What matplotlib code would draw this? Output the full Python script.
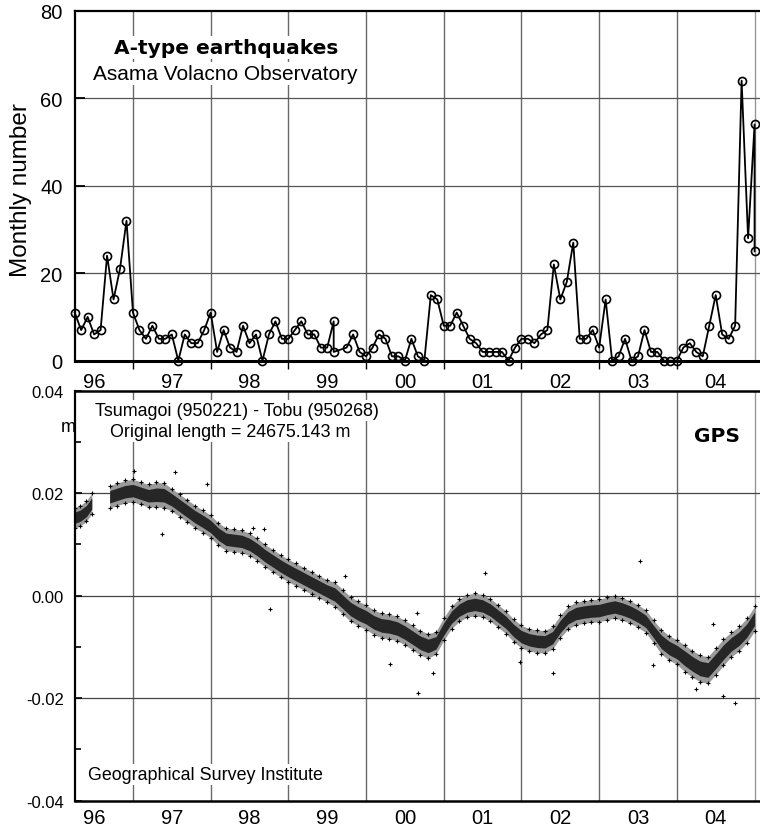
import numpy as np
import pandas as pd
import matplotlib
matplotlib.use("Agg")
import matplotlib.pyplot as plt

plt.rcParams['font.family'] = ['Liberation Sans', 'DejaVu Sans']

# === Data: A-type earthquakes, monthly number (from Apr 1996) ===
eq_month = list(range(0, 41)) + [40] + list(range(42, 106)) + [105]
eq_count = [11, 7, 10, 6, 7, 24, 14, 21, 32, 11,
            7, 5, 8, 5, 5, 6, 0, 6, 4, 4,
            7, 11, 2, 7, 3, 2, 8, 4, 6, 0,
            6, 9, 5, 5, 7, 9, 6, 6, 3, 3,
            9, 2,
            3, 6, 2, 1, 3, 6, 5, 1, 1, 0,
            5, 1, 0, 15, 14, 8, 8, 11, 8, 5,
            4, 2, 2, 2, 2, 0, 3, 5, 5, 4,
            6, 7, 22, 14, 18, 27, 5, 5, 7, 3,
            14, 0, 1, 5, 0, 1, 7, 2, 2, 0,
            0, 0, 3, 4, 2, 1, 8, 15, 6, 5,
            8, 64, 28, 54, 25]
eq_year = 1996.25 + np.array(eq_month) / 12.0

# === Data: GPS baseline change (m), band centre and half width ===
gps_year = [1996.25, 1996.32, 1996.40, 1996.47,
            1996.70, 1996.80, 1996.90, 1997.00, 1997.10, 1997.20, 1997.30,
            1997.40, 1997.50, 1997.60, 1997.70, 1997.80, 1997.90, 1998.00,
            1998.10, 1998.20, 1998.30, 1998.40, 1998.50, 1998.60, 1998.70,
            1998.80, 1998.90, 1999.00, 1999.10, 1999.20, 1999.30, 1999.40,
            1999.50, 1999.60, 1999.70, 1999.80, 1999.90, 2000.00, 2000.10,
            2000.20, 2000.30, 2000.40, 2000.50, 2000.60, 2000.70, 2000.80,
            2000.90, 2001.00, 2001.10, 2001.20, 2001.30, 2001.40, 2001.50,
            2001.60, 2001.70, 2001.80, 2001.90, 2002.00, 2002.10, 2002.20,
            2002.30, 2002.40, 2002.50, 2002.60, 2002.70, 2002.80, 2002.90,
            2003.00, 2003.10, 2003.20, 2003.30, 2003.40, 2003.50, 2003.60,
            2003.70, 2003.80, 2003.90, 2004.00, 2004.10, 2004.20, 2004.30,
            2004.40, 2004.50, 2004.60, 2004.70, 2004.80, 2004.90, 2005.00]
gps_mid = [0.0152, 0.0156, 0.0165, 0.0180,
           0.0193, 0.0198, 0.0203, 0.0205, 0.0200, 0.0195, 0.0197,
           0.0196, 0.0187, 0.0176, 0.0165, 0.0154, 0.0145, 0.0135,
           0.0120, 0.0110, 0.0108, 0.0106, 0.0100, 0.0090, 0.0078,
           0.0068, 0.0058, 0.0049, 0.0041, 0.0033, 0.0025, 0.0017,
           0.0009, 0.0002, -0.0012, -0.0026, -0.0035, -0.0042, -0.0052,
           -0.0058, -0.0060, -0.0064, -0.0072, -0.0082, -0.0092, -0.0098,
           -0.0092, -0.0065, -0.0042, -0.0028, -0.0020, -0.0017, -0.0020,
           -0.0028, -0.0040, -0.0052, -0.0068, -0.0080, -0.0086, -0.0089,
           -0.0090, -0.0082, -0.0060, -0.0043, -0.0035, -0.0032, -0.0030,
           -0.0029, -0.0025, -0.0022, -0.0026, -0.0032, -0.0040, -0.0050,
           -0.0070, -0.0090, -0.0102, -0.0110, -0.0122, -0.0133, -0.0142,
           -0.0145, -0.0128, -0.0110, -0.0095, -0.0084, -0.0068, -0.0045]
gps_half = [0.0020, 0.0020, 0.0020, 0.0020,
            0.0022, 0.0022, 0.0022, 0.0022, 0.0022, 0.0022, 0.0024,
            0.0024, 0.0022, 0.0022, 0.0022, 0.0022, 0.0022, 0.0022,
            0.0022, 0.0022, 0.0022, 0.0022, 0.0022, 0.0022, 0.0022,
            0.0022, 0.0022, 0.0022, 0.0022, 0.0022, 0.0022, 0.0022,
            0.0022, 0.0024, 0.0024, 0.0024, 0.0024, 0.0024, 0.0024,
            0.0024, 0.0024, 0.0024, 0.0024, 0.0024, 0.0024, 0.0024,
            0.0022, 0.0022, 0.0022, 0.0022, 0.0022, 0.0022, 0.0022,
            0.0022, 0.0022, 0.0022, 0.0022, 0.0022, 0.0022, 0.0022,
            0.0022, 0.0022, 0.0022, 0.0022, 0.0022, 0.0022, 0.0022,
            0.0022, 0.0022, 0.0022, 0.0022, 0.0022, 0.0022, 0.0022,
            0.0022, 0.0024, 0.0024, 0.0024, 0.0026, 0.0026, 0.0026,
            0.0026, 0.0026, 0.0026, 0.0024, 0.0024, 0.0024, 0.0024]

# isolated points off the main band
out_year = [1997.01, 1997.37, 1997.54, 1997.95, 1998.54, 1998.69, 1998.76,
            1999.73, 2000.31, 2000.66, 2000.67, 2000.86, 2001.53, 2001.98,
            2002.41, 2003.52, 2003.69, 2004.25, 2004.47, 2004.60, 2004.75]
out_val = [0.0244, 0.0120, 0.0241, 0.0218, 0.0133, 0.0130, -0.0026,
           0.0039, -0.0133, -0.0034, -0.0189, -0.0150, 0.0044, -0.0130,
           -0.0150, 0.0067, -0.0135, -0.0182, -0.0055, -0.0195, -0.0210]

year_labels = ['96', '97', '98', '99', '00', '01', '02', '03', '04']
year_start = np.arange(1996, 2005)

W, H = 760, 829
fig = plt.figure(figsize=(W / 100, H / 100), dpi=100)
ax1 = fig.add_axes([75 / W, 1 - 361.7 / H, 685 / W, 350 / H])
ax2 = fig.add_axes([75 / W, 1 - 801.7 / H, 685 / W, 410 / H])

xmin, xmax = 1996.254, 2005.07
grid_col = '#6a6a6a'

# === Top panel ===
for yr in year_start[1:]:
    ax1.axvline(yr, color=grid_col, lw=1.0, zorder=1)
ax1.axvline(2005, color='#999999', lw=1.0, zorder=1)
for v in [20, 40, 60]:
    ax1.axhline(v, color='#555555', lw=0.9, zorder=1)

ax1.plot(eq_year, eq_count, color='black', lw=1.3, marker='o', ms=5.8,
         mfc='none', mec='black', mew=1.2, zorder=3, clip_on=False)
ax1.set_xlim(xmin, xmax)
ax1.set_ylim(0, 80)
ax1.set_yticks([0, 20, 40, 60, 80])
ax1.tick_params(axis='y', direction='in', length=7, width=1.3, labelsize=14.5, pad=9)
ax1.set_xticks(year_start[1:])
ax1.set_xticklabels([])
ax1.tick_params(axis='x', which='major', direction='out', length=6, width=1.0)
ax1.set_xticks(year_start + 0.5, minor=True)
ax1.set_xticklabels(year_labels, minor=True)
ax1.tick_params(axis='x', which='minor', length=0, labelsize=14.5, pad=8)
ax1.spines['right'].set_visible(False)
ax1.spines['bottom'].set_linewidth(2.2)
ax1.spines['left'].set_linewidth(1.6)
ax1.spines['top'].set_linewidth(1.6)

box = dict(facecolor='white', edgecolor='none', pad=1.5)
fig.text(114 / W, 1 - 54 / H, 'A-type earthquakes', fontsize=14.5,
         family='DejaVu Sans', fontweight='bold', va='baseline', ha='left',
         bbox=box)
fig.text(93 / W, 1 - 80 / H, 'Asama Volacno Observatory', fontsize=15,
         va='baseline', ha='left', bbox=box)
fig.text(21 / W, 1 - 190 / H, 'Monthly number', fontsize=17.5,
         rotation=90, ha='center', va='center')

# === Bottom panel (GPS) ===
for yr in year_start[1:]:
    ax2.axvline(yr, color=grid_col, lw=1.0, zorder=1)
ax2.axvline(2005, color='#999999', lw=1.0, zorder=1)
for v in [0.02, 0.0, -0.02]:
    ax2.axhline(v, color='#444444', lw=0.9, zorder=1)

gy = np.array(gps_year)
gm = np.array(gps_mid)
gh = np.array(gps_half)
cut = np.where(np.diff(gy) > 0.15)[0] + 1
for seg in np.split(np.arange(len(gy)), cut):
    # sparse outer edge of the scatter cloud, dense core
    ax2.fill_between(gy[seg], gm[seg] - gh[seg], gm[seg] + gh[seg],
                     color='#9a9a9a', lw=0, zorder=2)
    ax2.fill_between(gy[seg], gm[seg] - gh[seg] * 0.55, gm[seg] + gh[seg] * 0.55,
                     color='#262626', lw=0, zorder=2)
    ax2.scatter(gy[seg], gm[seg] + gh[seg], marker='+', s=12,
                color='black', lw=0.8, zorder=3)
    ax2.scatter(gy[seg], gm[seg] - gh[seg], marker='+', s=12,
                color='black', lw=0.8, zorder=3)
ax2.scatter(out_year, out_val, marker='+', s=12, color='black', lw=0.8, zorder=3)

ax2.set_xlim(xmin, xmax)
ax2.set_ylim(-0.04, 0.04)
ax2.set_yticks([-0.04, -0.02, 0.0, 0.02, 0.04])
ax2.set_yticklabels(['-0.04', '-0.02', '0.00', '0.02', '0.04'])
ax2.set_yticks([-0.03, -0.01, 0.01, 0.03], minor=True)
ax2.tick_params(axis='y', which='major', direction='in', length=5, width=1.2,
                labelsize=12, pad=8)
ax2.tick_params(axis='y', which='minor', direction='in', length=4, width=1.2)
ax2.set_xticks(year_start[1:])
ax2.set_xticklabels([])
ax2.tick_params(axis='x', which='major', direction='out', length=0,
                top=True, bottom=False)
ax2.set_xticks(year_start + 0.5, minor=True)
ax2.set_xticklabels(year_labels, minor=True)
ax2.tick_params(axis='x', which='minor', length=0, labelsize=14.5, pad=5)
ax2.spines['right'].set_visible(False)
ax2.spines['bottom'].set_linewidth(1.8)
ax2.spines['left'].set_linewidth(1.6)
ax2.spines['top'].set_linewidth(1.8)

fig.text(95 / W, 1 - 416 / H, 'Tsumagoi (950221) - Tobu (950268)',
         fontsize=12.9, va='baseline', ha='left', bbox=box)
fig.text(110 / W, 1 - 437 / H, 'Original length = 24675.143 m',
         fontsize=12.9, va='baseline', ha='left', bbox=box)
fig.text(694 / W, 1 - 442 / H, 'GPS', fontsize=14.5, family='DejaVu Sans',
         fontweight='bold', va='baseline', ha='left', bbox=box)
fig.text(88 / W, 1 - 780 / H, 'Geographical Survey Institute',
         fontsize=12.9, va='baseline', ha='left', bbox=box)
fig.text(68 / W, 1 - 428 / H, 'm', fontsize=13, ha='center', va='center')

fig.savefig('out.png', dpi=100)
